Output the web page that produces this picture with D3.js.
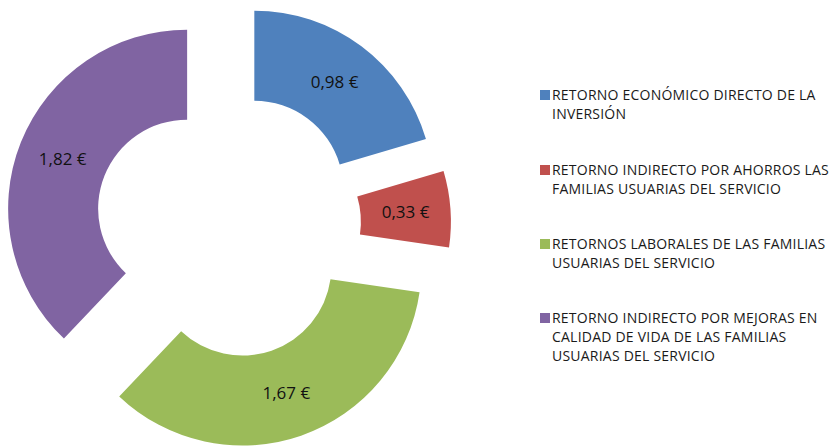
<!DOCTYPE html>
<html>
<head>
<meta charset="utf-8">
<script src="https://cdn.jsdelivr.net/npm/d3@7"></script>
<style>
  body { margin: 0; background: #fff; }
  text { font-family: "Open Sans", Lato, sans-serif; }
</style>
</head>
<body>
<svg></svg>
<script>
const w = 833
const h = 446

// data
const categories = [
  'RETORNO ECONÓMICO DIRECTO DE LA INVERSIÓN',
  'RETORNO INDIRECTO POR AHORROS LAS FAMILIAS USUARIAS DEL SERVICIO',
  'RETORNOS LABORALES DE LAS FAMILIAS USUARIAS DEL SERVICIO',
  'RETORNO INDIRECTO POR MEJORAS EN CALIDAD DE VIDA DE LAS FAMILIAS USUARIAS DEL SERVICIO'
];
const values = [0.98, 0.33, 1.67, 1.82];
// legend text as it wraps in the picture
const legendLines = [
  ['RETORNO ECONÓMICO DIRECTO DE LA', 'INVERSIÓN'],
  ['RETORNO INDIRECTO POR AHORROS LAS', 'FAMILIAS USUARIAS DEL SERVICIO'],
  ['RETORNOS LABORALES DE LAS FAMILIAS', 'USUARIAS DEL SERVICIO'],
  ['RETORNO INDIRECTO POR MEJORAS EN', 'CALIDAD DE VIDA DE LAS FAMILIAS', 'USUARIAS DEL SERVICIO']
];
const colors = ['#4F81BD', '#C0504D', '#9BBB59', '#8064A2'];

const svg = d3.select('svg')
  .attr('width', w)
  .attr('height', h);

const data = categories.map((c, i) => ({name: c, value: values[i], lines: legendLines[i]}));

const cx = 228, cy = 225;
const outerR = 179, innerR = 89;
const explode = 44;

const pie = d3.pie()
  .sort(null)
  .value(d => d.value);

const arc = d3.arc()
  .innerRadius(innerR)
  .outerRadius(outerR);

const labelArc = d3.arc()
  .innerRadius((innerR + outerR) / 2)
  .outerRadius((innerR + outerR) / 2);

const fmt = v => d3.format('.2f')(v).replace('.', ',') + ' €';

const g = svg.append('g')
  .attr('transform', `translate(${cx}, ${cy})`);

const slices = g.selectAll('g.slice').data(pie(data))
  .enter().append('g')
  .attr('class', 'slice')
  .attr('transform', d => {
    const a = (d.startAngle + d.endAngle) / 2;
    return `translate(${explode * Math.sin(a)}, ${-explode * Math.cos(a)})`;
  });

slices.append('path')
  .attr('d', arc)
  .attr('fill', (d, i) => colors[i]);

slices.append('text')
  .attr('transform', d => `translate(${labelArc.centroid(d)})`)
  .attr('text-anchor', 'middle')
  .attr('dy', '0.35em')
  .attr('font-size', 17)
  .attr('fill', '#111')
  .text(d => fmt(d.data.value));

// legend
const legendY = [95, 170, 244, 318];
const lineH = 19;

const legend = svg.append('g')
  .attr('transform', 'translate(540, 0)');

const items = legend.selectAll('g').data(data)
  .enter().append('g')
  .attr('transform', (d, i) => `translate(0, ${legendY[i]})`);

items.append('rect')
  .attr('x', 0)
  .attr('y', -5)
  .attr('width', 10)
  .attr('height', 10)
  .attr('fill', (d, i) => colors[i]);

const legendText = items.append('text')
  .attr('font-size', 14)
  .attr('fill', '#1a1a1a');

legendText.selectAll('tspan').data(d => d.lines)
  .enter().append('tspan')
  .attr('x', 12)
  .attr('y', (d, i) => i * lineH)
  .attr('dy', '0.36em')
  .text(d => d);

// stretch spacing so the widest line spans about 277px like the original
const ref = legendText.filter((d, i) => i === 1).select('tspan').node();
const natural = ref.getComputedTextLength();
const nChars = legendLines[1][0].length;
const spacing = Math.max(0, (277 - natural) / nChars);
legendText.attr('letter-spacing', spacing);
</script>
</body>
</html>
